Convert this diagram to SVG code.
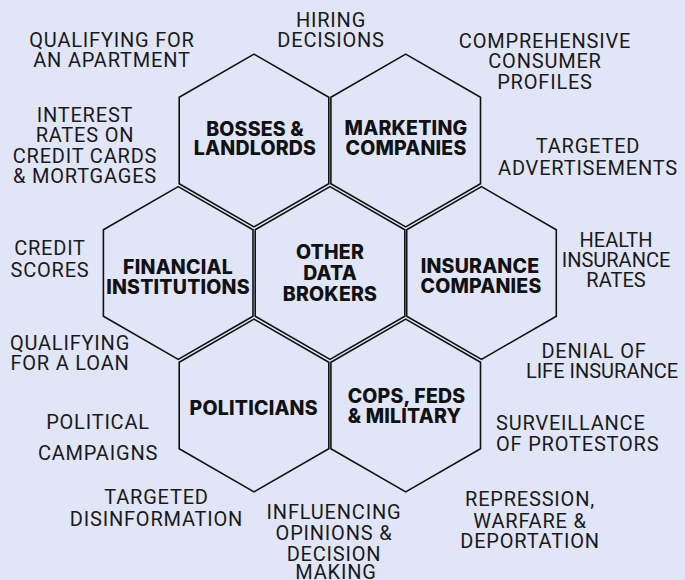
<svg xmlns="http://www.w3.org/2000/svg" xmlns:xlink="http://www.w3.org/1999/xlink" width="685" height="580" viewBox="0 0 685 580">
<style>
.hex{fill:#E1E5F8;stroke:#111;stroke-width:1.6;stroke-linejoin:miter}
.lbl{font-family:Inter,"Liberation Sans",sans-serif;font-weight:800;font-size:19.5px;letter-spacing:0.2px;fill:#111;text-anchor:middle}
.note{font-family:Roboto,"Liberation Sans",sans-serif;font-weight:400;font-size:20px;letter-spacing:0.8px;fill:#1a1a1a;text-anchor:middle}
.left{text-anchor:start}
.tight{letter-spacing:0}
</style>
<defs>
<polygon id="hexshape" points="0,-86.4 74.8,-43.2 74.8,43.2 0,86.4 -74.8,43.2 -74.8,-43.2"/>
</defs>
<rect width="685" height="580" fill="#E1E5F8"/>
<g id="connectors"></g>
<g id="bosses">
<use xlink:href="#hexshape" class="hex" transform="translate(254,140.5)"/>
<text class="lbl" x="255" y="135.5">BOSSES &amp;</text>
<text class="lbl" x="255" y="154.5">LANDLORDS</text>
</g>
<g id="marketing">
<use xlink:href="#hexshape" class="hex" transform="translate(405.7,140.5)"/>
<text class="lbl" x="406" y="134.5">MARKETING</text>
<text class="lbl" x="406" y="154.5">COMPANIES</text>
</g>
<g id="financial">
<use xlink:href="#hexshape" class="hex" transform="translate(178.2,273)"/>
<text class="lbl" x="178" y="274">FINANCIAL</text>
<text class="lbl" x="178" y="294">INSTITUTIONS</text>
</g>
<g id="brokers">
<use xlink:href="#hexshape" class="hex" transform="translate(330,273)"/>
<text class="lbl" x="330" y="258.5">OTHER</text>
<text class="lbl" x="330" y="279.5">DATA</text>
<text class="lbl" x="330" y="300.5">BROKERS</text>
</g>
<g id="insurance">
<use xlink:href="#hexshape" class="hex" transform="translate(481.5,273)"/>
<text class="lbl" x="480" y="272.7">INSURANCE</text>
<text class="lbl" x="481" y="292.7">COMPANIES</text>
</g>
<g id="politicians">
<use xlink:href="#hexshape" class="hex" transform="translate(254,405.5)"/>
<text class="lbl" x="253.7" y="415">POLITICIANS</text>
</g>
<g id="cops">
<use xlink:href="#hexshape" class="hex" transform="translate(405.7,405.5)"/>
<text class="lbl" x="406.5" y="402.7">COPS, FEDS</text>
<text class="lbl" x="404.5" y="423">&amp; MILITARY</text>
</g>
<g id="notes">
<text class="note" x="112" y="46.7">QUALIFYING FOR</text>
<text class="note" x="112" y="66.7">AN APARTMENT</text>
<text class="note" x="331" y="27">HIRING</text>
<text class="note" x="331" y="47">DECISIONS</text>
<text class="note" x="545" y="47.7">COMPREHENSIVE</text>
<text class="note" x="545" y="68.3">CONSUMER</text>
<text class="note" x="545" y="89">PROFILES</text>
<text class="note" x="85" y="121.7">INTEREST</text>
<text class="note" x="85" y="142.3">RATES ON</text>
<text class="note" x="85" y="162.5">CREDIT CARDS</text>
<text class="note" x="85" y="183.3">&amp; MORTGAGES</text>
<text class="note" x="588" y="153.3">TARGETED</text>
<text class="note" x="588" y="175">ADVERTISEMENTS</text>
<text class="note" x="50" y="255">CREDIT</text>
<text class="note" x="50" y="277">SCORES</text>
<text class="note tight" x="616" y="247">HEALTH</text>
<text class="note tight" x="616" y="267">INSURANCE</text>
<text class="note tight" x="616" y="287">RATES</text>
<text class="note" x="70" y="350">QUALIFYING</text>
<text class="note" x="70" y="370">FOR A LOAN</text>
<text class="note" x="594" y="358">DENIAL OF</text>
<text class="note tight" x="602" y="378">LIFE INSURANCE</text>
<text class="note" x="98" y="428.5">POLITICAL</text>
<text class="note" x="98" y="460">CAMPAIGNS</text>
<text class="note left" x="496" y="430">SURVEILLANCE</text>
<text class="note left" x="496" y="451">OF PROTESTORS</text>
<text class="note" x="156.5" y="504.3">TARGETED</text>
<text class="note" x="156.5" y="526">DISINFORMATION</text>
<text class="note" x="334" y="519.3">INFLUENCING</text>
<text class="note" x="334" y="540">OPINIONS &amp;</text>
<text class="note" x="334" y="560.5">DECISION</text>
<text class="note" x="336" y="578.5">MAKING</text>
<text class="note" x="530" y="506">REPRESSION,</text>
<text class="note" x="530" y="527.7">WARFARE &amp;</text>
<text class="note" x="530" y="547.7">DEPORTATION</text>
</g>
</svg>
